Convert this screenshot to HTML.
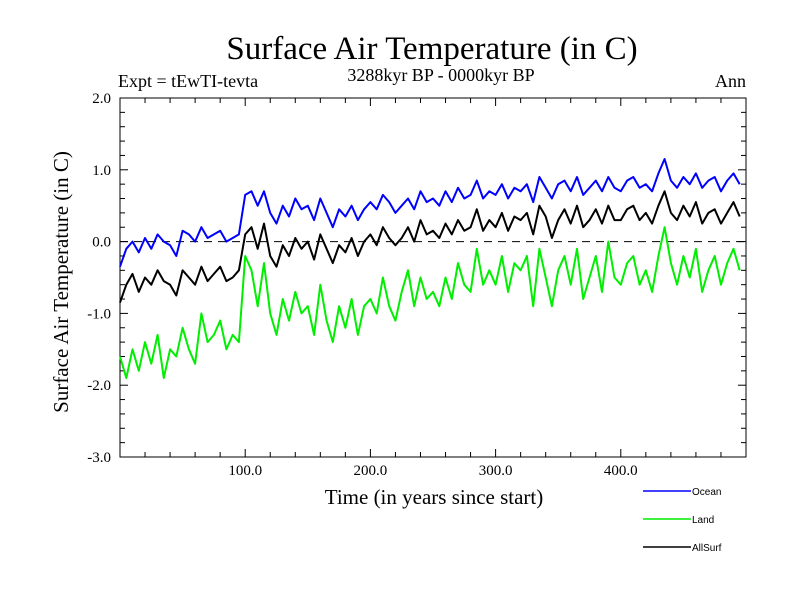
<!DOCTYPE html>
<html><head><meta charset="utf-8"><style>
body{margin:0;background:#fff}
svg{display:block}
text{font-family:"Liberation Serif",serif}
</style></head><body>
<svg id="c" width="800" height="600">
<text x="432" y="59" font-size="33" text-anchor="middle">Surface Air Temperature (in C)</text>
<text x="118" y="87" font-size="18">Expt = tEwTI-tevta</text>
<text x="441" y="81" font-size="18" text-anchor="middle">3288kyr BP - 0000kyr BP</text>
<text x="746" y="87" font-size="18" text-anchor="end">Ann</text>
<text transform="translate(68,282) rotate(-90)" font-size="21" text-anchor="middle">Surface Air Temperature (in C)</text>
<text x="434" y="504" font-size="21" text-anchor="middle">Time (in years since start)</text>
<g id="axes"></g>
<g id="series"></g>
<g id="legend"></g>
</svg>
<script>
const years = Array.from({length:100},(_, i)=>i*5);
const ocean = [-0.35,-0.1,0.0,-0.15,0.05,-0.1,0.1,0.0,-0.05,-0.2,
0.15,0.1,0.0,0.2,0.05,0.1,0.15,0.0,0.05,0.1,
0.65,0.7,0.5,0.7,0.4,0.25,0.5,0.35,0.6,0.45,
0.5,0.3,0.6,0.4,0.2,0.45,0.35,0.5,0.3,0.45,
0.55,0.45,0.65,0.55,0.4,0.5,0.6,0.45,0.7,0.55,
0.6,0.5,0.7,0.55,0.75,0.6,0.65,0.85,0.6,0.7,
0.65,0.8,0.6,0.75,0.7,0.8,0.55,0.9,0.75,0.6,
0.8,0.85,0.7,0.9,0.65,0.75,0.85,0.7,0.9,0.75,
0.7,0.85,0.9,0.75,0.8,0.7,0.95,1.15,0.85,0.75,
0.9,0.8,0.95,0.75,0.85,0.9,0.7,0.85,0.95,0.8];
const land = [-1.6,-1.9,-1.5,-1.8,-1.4,-1.7,-1.3,-1.9,-1.5,-1.6,
-1.2,-1.5,-1.7,-1.0,-1.4,-1.3,-1.1,-1.5,-1.3,-1.4,
-0.2,-0.4,-0.9,-0.3,-1.0,-1.3,-0.8,-1.1,-0.7,-1.0,
-0.9,-1.3,-0.6,-1.1,-1.4,-0.9,-1.2,-0.8,-1.3,-0.9,
-0.8,-1.0,-0.5,-0.9,-1.1,-0.7,-0.4,-0.9,-0.5,-0.8,
-0.7,-0.9,-0.5,-0.8,-0.3,-0.6,-0.7,-0.1,-0.6,-0.4,
-0.6,-0.2,-0.7,-0.3,-0.4,-0.2,-0.9,-0.1,-0.5,-0.9,
-0.4,-0.2,-0.6,-0.1,-0.8,-0.5,-0.2,-0.7,0.0,-0.5,
-0.6,-0.3,-0.2,-0.6,-0.4,-0.7,-0.2,0.2,-0.3,-0.6,
-0.2,-0.5,-0.1,-0.7,-0.4,-0.2,-0.6,-0.3,-0.1,-0.4];
const allsurf = [-0.85,-0.6,-0.45,-0.7,-0.5,-0.6,-0.4,-0.55,-0.6,-0.75,
-0.4,-0.5,-0.6,-0.35,-0.55,-0.45,-0.35,-0.55,-0.5,-0.4,
0.1,0.2,-0.1,0.25,-0.2,-0.35,-0.05,-0.2,0.05,-0.1,
0.0,-0.25,0.1,-0.1,-0.3,-0.05,-0.15,0.05,-0.2,0.0,
0.1,-0.05,0.2,0.05,-0.05,0.05,0.2,0.0,0.3,0.1,
0.15,0.05,0.25,0.1,0.3,0.15,0.2,0.45,0.15,0.3,
0.2,0.4,0.15,0.35,0.3,0.4,0.1,0.5,0.35,0.05,
0.3,0.45,0.25,0.5,0.2,0.3,0.45,0.25,0.5,0.3,
0.3,0.45,0.5,0.3,0.4,0.25,0.5,0.7,0.4,0.3,
0.5,0.35,0.55,0.25,0.4,0.45,0.25,0.4,0.55,0.35];
const yTicks = [2.0,1.0,0.0,-1.0,-2.0,-3.0];
const yTickLabels = ["2.0","1.0","0.0","-1.0","-2.0","-3.0"];
const xTicks = [100,200,300,400];
const xTickLabels = ["100.0","200.0","300.0","400.0"];
const seriesNames = ["Ocean","Land","AllSurf"];
const seriesColors = ["#0000ff","#00ee00","#000000"];

const X0=120,X1=746,Y0=98,Y1=457;
const xs = v => X0 + (v/500)*(X1-X0);
const ys = v => Y0 + (2 - v)/5*(Y1-Y0);
const NS="http://www.w3.org/2000/svg";
function mk(tag, attrs, parent){const e=document.createElementNS(NS,tag);for(const k in attrs)e.setAttribute(k,attrs[k]);parent.appendChild(e);return e;}
const ax=document.getElementById('axes');
const frame=mk('rect',{x:X0,y:Y0,width:X1-X0,height:Y1-Y0,fill:'none',stroke:'#000','stroke-width':1},ax);


const zl=mk('line',{x1:X0,x2:X1,y1:ys(0),y2:ys(0),stroke:'#000','stroke-dasharray':'8,6','stroke-width':1},ax);


for(let v=-3;v<=2.001;v+=0.2){
  const big=Math.abs(v-Math.round(v))<0.01;const L=big?8:5;const y=ys(v);
  const t1=mk('line',{x1:X0,x2:X0+L,y1:y,y2:y,stroke:'#000'},ax);
  
  
  const t2=mk('line',{x1:X1-L,x2:X1,y1:y,y2:y,stroke:'#000'},ax);
  
  
}
yTicks.forEach((v,i)=>{const t=mk('text',{x:111,y:ys(v)+5,'font-size':15,'text-anchor':'end'},ax);t.textContent=yTickLabels[i];
  
  });
for(let v=20;v<500;v+=20){
  const big=v%100===0;const L=big?8:5;const x=xs(v);
  const t1=mk('line',{x1:x,x2:x,y1:Y1,y2:Y1-L,stroke:'#000'},ax);
  
  
  const t2=mk('line',{x1:x,x2:x,y1:Y0,y2:Y0+L,stroke:'#000'},ax);
  
  
}
xTicks.forEach((v,i)=>{const t=mk('text',{x:xs(v),y:475,'font-size':15,'text-anchor':'middle'},ax);t.textContent=xTickLabels[i];
  
  });
const sg=document.getElementById('series');
[ocean,land,allsurf].forEach((arr,si)=>{
  const d=arr.map((v,i)=>(i?'L':'M')+xs(years[i]).toFixed(1)+','+ys(v).toFixed(1)).join('');
  const p=mk('path',{d:d,fill:'none',stroke:seriesColors[si],'stroke-width':2,'stroke-linejoin':'round'},sg);
  
  
});
const lg=document.getElementById('legend');
seriesNames.forEach((n,i)=>{const y=491+i*28;
  const l=mk('line',{x1:643,x2:691,y1:y,y2:y,stroke:seriesColors[i],'stroke-width':1.5},lg);
  
  
  const t=mk('text',{x:692,y:y+4,'font-size':10,style:'font-family:"Liberation Sans",sans-serif'},lg);t.textContent=n;
  
  
});
</script>
</body></html>
